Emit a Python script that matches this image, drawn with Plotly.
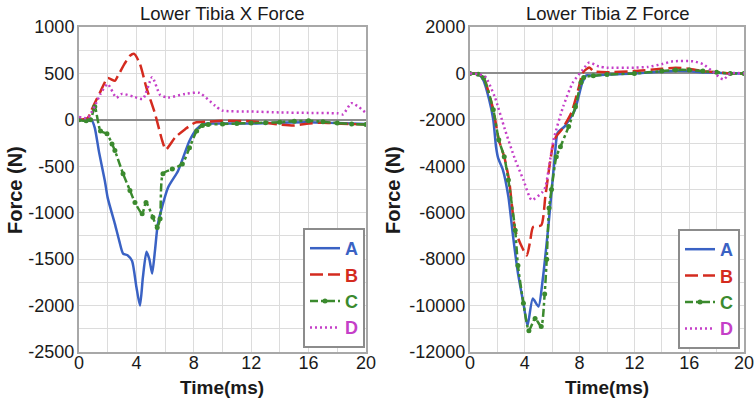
import plotly.graph_objects as go

# ---------------- data: Lower Tibia X Force (N) ----------------
xa_t = [0, 0.5, 0.9, 1.1, 1.4, 1.8, 2.0, 2.5, 2.8, 3.07, 3.4, 3.7, 4.0, 4.25, 4.45, 4.7, 4.9, 5.1, 5.3, 5.5, 6.2, 6.9, 7.7, 8.2, 8.6, 9, 10, 12, 14, 16, 18, 20]
xa_v = [0, -10, -10, -86, -350, -656, -840, -1120, -1300, -1440, -1460, -1520, -1800, -2000, -1700, -1420, -1500, -1655, -1400, -1120, -730, -550, -225, -100, -50, -40, -40, -40, -30, -25, -35, -45]

xb_t = [0, 0.6, 1.0, 1.45, 2.0, 2.5, 2.7, 3.2, 3.55, 3.85, 4.25, 4.7, 5.3, 5.8, 6.05, 6.7, 7.4, 8.1, 9, 10, 12, 13, 14, 15, 16, 17, 18, 20]
xb_v = [0, 20, 150, 290, 450, 420, 470, 610, 690, 710, 600, 345, 65, -225, -320, -190, -100, -30, -20, -10, -15, -30, -50, -60, -40, -30, -40, -50]

xc_t = [0, 0.5, 0.8, 1.1, 1.5, 1.95, 2.3, 2.5, 3.07, 3.55, 3.9, 4.4, 4.67, 5.15, 5.45, 5.65, 5.85, 6.5, 7.2, 7.7, 8.2, 8.6, 9, 10, 11, 12, 13, 14, 15, 16, 17, 18, 19, 20]
xc_v = [0, -10, 0, 140, -120, -150, -260, -330, -580, -760, -890, -1010, -890, -1050, -1160, -1065, -580, -530, -475, -300, -120, -60, -50, -45, -40, -35, -30, -25, -15, -10, -20, -35, -45, -50]

xd_t = [0, 0.6, 1.1, 1.5, 2.0, 2.6, 3.0, 3.8, 4.45, 5.1, 5.65, 6.2, 7.4, 8.4, 9.5, 10, 12, 14, 16, 18, 18.4, 19.0, 20]
xd_v = [30, 20, 150, 280, 385, 240, 280, 250, 225, 460, 270, 240, 280, 290, 150, 100, 90, 80, 75, 70, 60, 180, 75]

# ---------------- data: Lower Tibia Z Force (N) ----------------
za_t = [0, 0.6, 0.95, 1.4, 1.7, 1.9, 2.05, 2.4, 2.8, 3.15, 3.5, 3.9, 4.2, 4.58, 5.0, 5.3, 5.67, 5.9, 6.2, 6.4, 6.9, 7.66, 8.2, 8.5, 9, 10, 12, 14, 15, 16, 17, 18, 19, 20]
za_v = [0, -30, -260, -1130, -2000, -3160, -3640, -4150, -5300, -7050, -8600, -9900, -10870, -9700, -10040, -8920, -6880, -5450, -3500, -2550, -2290, -1560, -390, -80, -100, -50, 0, 80, 120, 100, 50, 30, 0, 0]

zb_t = [0, 0.6, 1.0, 1.7, 2.1, 2.5, 2.85, 3.3, 3.8, 4.15, 4.4, 4.6, 5.2, 5.5, 5.8, 6.05, 6.3, 6.7, 7.4, 7.9, 8.25, 8.7, 9, 10, 12, 14, 15, 16, 17, 18, 19, 20]
zb_v = [0, -30, -200, -1560, -2860, -3590, -4590, -6750, -7490, -7840, -7190, -6620, -6540, -5300, -4000, -3100, -2700, -2420, -1690, -690, 40, 260, 100, 50, 100, 200, 250, 200, 100, 50, 0, 0]

zc_t = [0, 0.6, 1.0, 1.7, 2.1, 2.5, 2.8, 3.3, 3.5, 3.9, 4.3, 4.75, 5.2, 5.45, 5.6, 5.77, 5.95, 6.3, 6.6, 7.2, 7.7, 8.1, 8.3, 9, 10, 12, 14, 15, 16, 17, 18, 19, 20]
zc_v = [0, -30, -200, -1560, -2860, -3590, -4590, -6750, -8270, -9900, -11080, -10560, -10900, -9500, -8000, -5800, -5000, -3590, -3160, -2290, -1430, -390, -170, -100, -50, 0, 100, 150, 150, 100, 50, 0, 0]

zd_t = [0, 0.6, 1.1, 1.8, 2.55, 3.3, 3.9, 4.5, 5.3, 5.5, 6.1, 6.8, 7.5, 8.25, 8.7, 9.4, 10, 12, 13, 14, 14.8, 16.3, 17, 17.7, 18.5, 19, 20]
zd_v = [0, -30, -130, -1000, -2420, -3720, -4590, -5450, -5100, -4900, -2860, -1430, -400, 170, 470, 300, 250, 250, 280, 400, 520, 520, 400, 90, -260, 0, 0]

# ---------------- tick labels ----------------
x_ticks = [0, 4, 8, 12, 16, 20]
x_ticktext = ["0", "4", "8", "12", "16", "20"]
yl_ticks = [1000, 500, 0, -500, -1000, -1500, -2000, -2500]
yl_ticktext = ["1000", "500", "0", "-500", "-1000", "-1500", "-2000", "-2500"]
yr_ticks = [2000, 0, -2000, -4000, -6000, -8000, -10000, -12000]
yr_ticktext = ["2000", "0", "-2000", "-4000", "-6000", "-8000", "-10000", "-12000"]

names = ["A", "B", "C", "D"]
colors = {"A": "#3a62c4", "B": "#d42b1f", "C": "#3b8a2e", "D": "#c53fc8"}
dashes = {"A": "solid", "B": "13px,5px", "C": "8px,3px,3px,3px", "D": "2px,3px"}

left = {"A": (xa_t, xa_v), "B": (xb_t, xb_v), "C": (xc_t, xc_v), "D": (xd_t, xd_v)}
right = {"A": (za_t, za_v), "B": (zb_t, zb_v), "C": (zc_t, zc_v), "D": (zd_t, zd_v)}

FONT = "Liberation Sans, Arial, sans-serif"
fig = go.Figure()

def add(series, xaxis, yaxis, legend):
    for n in names:
        t, v = series[n]
        mode = "lines+markers" if n == "C" else "lines"
        fig.add_trace(go.Scatter(
            x=t, y=v, mode=mode, xaxis=xaxis, yaxis=yaxis, legend=legend,
            name="<b><span style='color:%s'>%s</span></b>" % (colors[n], n),
            line=dict(color=colors[n], width=2.5, dash=dashes[n], shape="spline", smoothing=0.6),
            marker=dict(size=5, color=colors[n]),
        ))

add(left, "x", "y", "legend")
add(right, "x2", "y2", "legend2")

grid = "#dcdcdc"
axframe = "#a8a8a8"
tickfont = dict(family=FONT, size=18, color="#1a1a1a")

# plot region in pixels: left 79..744, top 27..352
ML, MR, MT, MB = 79, 12, 27, 49
PW, PH = 756 - ML - MR, 401 - MT - MB

def px(x):
    return (x - ML) / PW

def py(y):
    return (401 - MB - y) / PH

def xax(domain, anchor):
    return dict(domain=domain, anchor=anchor, range=[0, 20],
                tickvals=x_ticks, ticktext=x_ticktext,
                showgrid=True, gridcolor=grid, gridwidth=1,
                minor=dict(dtick=2, tick0=0, showgrid=True, gridcolor=grid, gridwidth=1),
                showline=True, linecolor=axframe, linewidth=2, mirror=True,
                zeroline=False, ticks="", tickfont=tickfont, automargin=False,
                ticklabelstandoff=-7)

def yax(domain, anchor, rng, tv, tt, minor):
    return dict(domain=domain, anchor=anchor, range=rng, tickvals=tv, ticktext=tt,
                showgrid=True, gridcolor=grid, gridwidth=1,
                minor=dict(dtick=minor, tick0=0, showgrid=True, gridcolor=grid, gridwidth=1),
                showline=True, linecolor=axframe, linewidth=2, mirror=True,
                zeroline=True, zerolinecolor="#8c8c8c", zerolinewidth=1.5,
                ticks="", tickfont=tickfont, automargin=False, ticklabelstandoff=-1)

legend_common = dict(bgcolor="white", bordercolor="#8c8c8c", borderwidth=2,
                     font=dict(family=FONT, size=18), itemwidth=30,
                     tracegroupgap=0, xanchor="right", yanchor="bottom")

ann = []
for cx, title in [(222, "Lower Tibia X Force"), (607, "Lower Tibia Z Force")]:
    ann.append(dict(text=title, x=px(cx), y=py(13), xref="paper", yref="paper",
                    xanchor="center", yanchor="middle",
                    showarrow=False, font=dict(family=FONT, size=18.5)))
    ann.append(dict(text="<b>Time(ms)</b>", x=px(cx), y=py(387), xref="paper", yref="paper",
                    xanchor="center", yanchor="middle",
                    showarrow=False, font=dict(family=FONT, size=19)))
for cx in [15, 393]:
    ann.append(dict(text="<b>Force (N)</b>", x=px(cx), y=py(190), xref="paper", yref="paper",
                    xanchor="center", yanchor="middle",
                    showarrow=False, textangle=-90, font=dict(family=FONT, size=20)))

fig.update_layout(
    width=756, height=401,
    margin=dict(l=ML, r=MR, t=MT, b=MB, autoexpand=False),
    paper_bgcolor="white", plot_bgcolor="white",
    font=dict(family=FONT, color="#1a1a1a"),
    xaxis=xax([0, px(366)], "y"),
    yaxis=yax([0, 1], "x", [-2500, 1000], yl_ticks, yl_ticktext, 250),
    xaxis2=xax([px(470), 1], "y2"),
    yaxis2=yax([0, 1], "x2", [-12000, 2000], yr_ticks, yr_ticktext, 1000),
    legend=dict(x=px(365), y=py(348), **legend_common),
    legend2=dict(x=px(740), y=py(349), **legend_common),
    annotations=ann,
)

fig.write_html("out.html")
